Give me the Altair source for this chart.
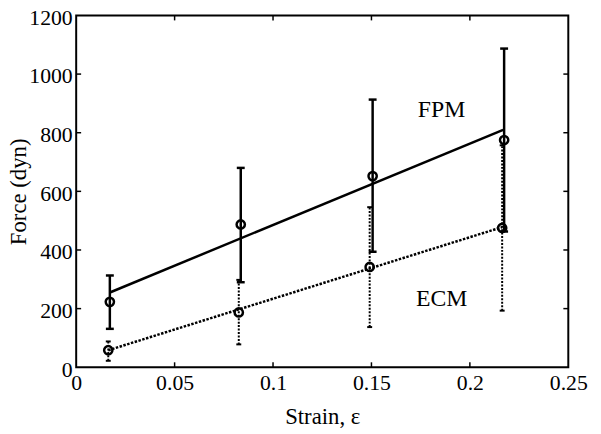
import altair as alt
import pandas as pd

# ---- data ----
strain_fpm = [0.0171, 0.0836, 0.1506, 0.2174]
force_fpm = [223, 487, 652, 775]
fpm_lo = [131, 290, 394, 463]
fpm_hi = [313, 680, 913, 1087]

strain_ecm = [0.0163, 0.0826, 0.1491, 0.2164]
force_ecm = [58, 187, 342, 475]
ecm_lo = [22, 78, 137, 193]
ecm_hi = [88, 298, 546, 757]

fit_fpm_x = [0.0171, 0.2169]
fit_fpm_y = [255, 810]
fit_ecm_x = [0.0163, 0.2164]
fit_ecm_y = [58, 478]

label_text = ["FPM", "ECM"]
label_x = [0.1856, 0.1857]
label_y = [854, 208]

x_ticks = [0.05, 0.1, 0.15, 0.2]
y_ticks = [200, 400, 600, 800, 1000]
x_labels = [0, 0.05, 0.1, 0.15, 0.2, 0.25]
y_labels = [0, 200, 400, 600, 800, 1000, 1200]

W, H = 498, 356
FONT = "Liberation Serif"

fpm = pd.DataFrame({"x": strain_fpm, "y": force_fpm, "lo": fpm_lo, "hi": fpm_hi})
ecm = pd.DataFrame({"x": strain_ecm, "y": force_ecm, "lo": ecm_lo, "hi": ecm_hi})
fpm_caps = pd.DataFrame({"x": strain_fpm * 2, "y": fpm_lo + fpm_hi})
ecm_caps = pd.DataFrame({"x": strain_ecm * 2, "y": ecm_lo + ecm_hi})
fit_fpm = pd.DataFrame({"x": fit_fpm_x, "y": fit_fpm_y})
fit_ecm = pd.DataFrame({"x": fit_ecm_x, "y": fit_ecm_y})
labels = pd.DataFrame({"t": label_text, "x": label_x, "y": label_y})
xt = pd.DataFrame({"x": x_ticks})
yt = pd.DataFrame({"y": y_ticks})

xs = alt.Scale(domain=[0, 0.25], nice=False, zero=False)
ys = alt.Scale(domain=[0, 1200], nice=False, zero=False)

x_axis = alt.Axis(
    title="Strain, ε", values=x_labels, format="~g", ticks=False, tickSize=0,
    domain=False, grid=False, labelPadding=6, labelFontSize=22, labelFont=FONT,
    labelColor="black", titleFont=FONT, titleFontSize=23, titleFontWeight="normal",
    titleColor="black", titleY=57, titleBaseline="alphabetic", labelFlush=False)
y_axis = alt.Axis(
    title="Force (dyn)", values=y_labels, format="d", ticks=False, tickSize=0,
    domain=False, grid=False, labelPadding=4, labelFontSize=22, labelFont=FONT,
    labelOffset=2,
    labelColor="black", titleFont=FONT, titleFontSize=23, titleFontWeight="normal",
    titleColor="black", titleX=-51, titleBaseline="alphabetic", labelFlush=False)


def X(f="x"):
    return alt.X(f + ":Q", scale=xs, axis=x_axis)


def Y(f="y"):
    return alt.Y(f + ":Q", scale=ys, axis=y_axis)


fit_fpm_line = alt.Chart(fit_fpm).mark_line(color="black", strokeWidth=2.5).encode(x=X(), y=Y())

fit_ecm_line = alt.Chart(fit_ecm).mark_line(
    color="black", strokeWidth=2.5, strokeDash=[2.5, 1.5]).encode(x=X(), y=Y())

fpm_bars = alt.Chart(fpm).mark_rule(color="black", strokeWidth=2.5).encode(
    x=X(), y=Y("lo"), y2="hi:Q")
ecm_bars = alt.Chart(ecm).mark_rule(
    color="black", strokeWidth=2, strokeDash=[2, 1.5]).encode(
    x=X(), y=Y("lo"), y2="hi:Q")

fpm_cap = alt.Chart(fpm_caps).mark_tick(
    color="black", orient="horizontal", size=8, thickness=2.5, opacity=1).encode(x=X(), y=Y())
ecm_cap = alt.Chart(ecm_caps).mark_tick(
    color="black", orient="horizontal", size=5, thickness=2, opacity=1).encode(x=X(), y=Y())

fpm_pts = alt.Chart(fpm).mark_point(
    shape="circle", size=70, strokeWidth=2.5, color="black", filled=False, opacity=1
).encode(x=X(), y=Y())
ecm_pts = alt.Chart(ecm).mark_point(
    shape="circle", size=70, strokeWidth=2.5, color="black", filled=False, opacity=1
).encode(x=X(), y=Y())

txt = alt.Chart(labels).mark_text(
    font=FONT, fontSize=24, color="black", align="center", baseline="alphabetic"
).encode(x=X(), y=Y(), text="t:N")

tick_len = 5
bottom_ticks = alt.Chart(xt).mark_rule(color="black", strokeWidth=1.5).encode(
    x=X(), y=alt.value(H), y2=alt.value(H - tick_len))
top_ticks = alt.Chart(xt).mark_rule(color="black", strokeWidth=1.5).encode(
    x=X(), y=alt.value(0), y2=alt.value(tick_len))
left_ticks = alt.Chart(yt).mark_rule(color="black", strokeWidth=1.5).encode(
    y=Y(), x=alt.value(0), x2=alt.value(tick_len))
right_ticks = alt.Chart(yt).mark_rule(color="black", strokeWidth=1.5).encode(
    y=Y(), x=alt.value(W), x2=alt.value(W - tick_len))

chart = alt.layer(
    fit_fpm_line, fit_ecm_line, ecm_bars, fpm_bars, ecm_cap, fpm_cap,
    ecm_pts, fpm_pts, txt, bottom_ticks, top_ticks, left_ticks, right_ticks
).properties(
    width=W, height=H,
    autosize=alt.AutoSizeParams(type="none"),
    padding={"left": 69, "top": 5, "right": 25, "bottom": 64},
).configure(
    background="white"
).configure_view(
    stroke="black", strokeWidth=2
)

chart.save("out.html", embed_options={"renderer": "svg", "actions": False})
